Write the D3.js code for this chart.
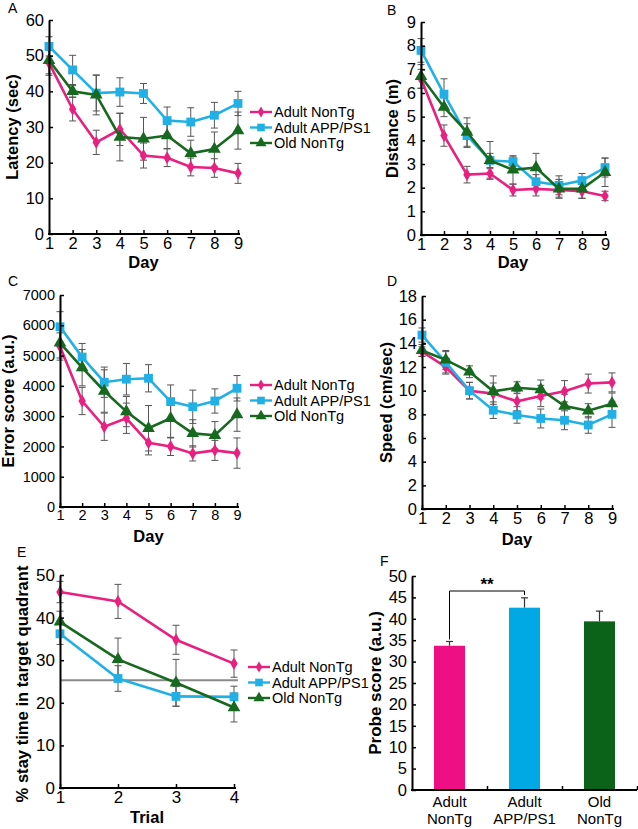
<!DOCTYPE html>
<html><head><meta charset="utf-8">
<script src="https://cdn.jsdelivr.net/npm/d3@7"></script>
<style>body{margin:0;background:#fff}text{font-family:"Liberation Sans",Arial,sans-serif;fill:#000}</style>
</head><body>
<svg id="c" width="638" height="829"></svg>
<script>
// ---------- DATA ----------
const seriesNames = ["Adult NonTg", "Adult APP/PS1", "Old NonTg"];
const days = [1, 2, 3, 4, 5, 6, 7, 8, 9];
const trials = [1, 2, 3, 4];

const latencyAdultNonTg = [48, 35, 25.7, 29.3, 22, 21.4, 18.8, 18.5, 17];
const latencyAdultNonTgErr = [3.5, 3.3, 3.4, 4.5, 3.5, 2.5, 2.5, 2.6, 2.8];
const latencyAPP = [52.6, 46, 39.5, 39.8, 39.4, 31.8, 31.4, 33.3, 36.6];
const latencyAPPErr = [2.7, 4.1, 5, 4, 2.8, 3.8, 4.0, 3.6, 3.4];
const latencyOldNonTg = [48.7, 40, 39, 27.2, 26.7, 27.6, 22.6, 23.8, 29];
const latencyOldNonTgErr = [3.8, 1.6, 5.6, 6.7, 6.0, 3.7, 3.7, 4.8, 5.2];

const distAdultNonTg = [6.6, 4.2, 2.55, 2.6, 1.9, 1.95, 1.9, 1.85, 1.65];
const distAdultNonTgErr = [0.4, 0.45, 0.35, 0.2, 0.25, 0.3, 0.3, 0.3, 0.2];
const distAPP = [7.8, 5.95, 4.2, 3.15, 3.1, 2.25, 2.1, 2.3, 2.85];
const distAPPErr = [0.5, 0.65, 0.5, 0.3, 0.2, 0.3, 0.4, 0.3, 0.4];
const distOldNonTg = [6.7, 5.4, 4.35, 3.15, 2.75, 2.85, 1.95, 1.95, 2.65];
const distOldNonTgErr = [0.5, 0.4, 0.6, 0.8, 0.6, 0.6, 0.4, 0.4, 0.6];

const errAdultNonTg = [5300, 3500, 2650, 2930, 2120, 2000, 1770, 1870, 1780];
const errAdultNonTgErr = [450, 450, 450, 500, 400, 300, 250, 330, 500];
const errAPP = [5950, 4950, 4120, 4220, 4250, 3480, 3310, 3500, 3920];
const errAPPErr = [500, 450, 500, 520, 450, 550, 550, 400, 420];
const errOldNonTg = [5420, 4600, 3830, 3150, 2600, 2930, 2430, 2370, 3050];
const errOldNonTgErr = [500, 600, 700, 500, 750, 650, 450, 450, 550];

const speedAdultNonTg = [13.3, 12.0, 10.0, 9.75, 9.1, 9.55, 9.95, 10.6, 10.7];
const speedAdultNonTgErr = [0.4, 0.6, 0.7, 0.9, 0.8, 0.9, 0.9, 0.8, 0.8];
const speedAPP = [14.7, 12.4, 10.0, 8.35, 7.95, 7.65, 7.5, 7.1, 8.0];
const speedAPPErr = [0.6, 0.9, 0.7, 0.7, 0.7, 0.8, 0.8, 0.7, 1.1];
const speedOldNonTg = [13.4, 12.6, 11.6, 9.95, 10.25, 10.1, 8.7, 8.3, 8.9];
const speedOldNonTgErr = [0.5, 0.8, 0.5, 1.3, 0.5, 0.8, 1.0, 0.6, 0.9];

const stayAdultNonTg = [46, 43.8, 34.8, 29.2];
const stayAdultNonTgErr = [2.5, 4, 3.4, 3.2];
const stayAPP = [36.2, 25.7, 21.5, 21.4];
const stayAPPErr = [2.5, 3, 2.3, 2.5];
const stayOldNonTg = [39, 30.2, 24.7, 18.9];
const stayOldNonTgErr = [2.5, 5, 5.5, 3.4];
const chanceLevel = 25.3;

const probeGroups = [["Adult", "NonTg"], ["Adult", "APP/PS1"], ["Old", "NonTg"]];
const probeScore = [33.7, 42.6, 39.4];
const probeErr = [1.0, 2.3, 2.4];

const lineColors = ["#e8207f", "#21b0e6", "#17691f"];
const barColors = ["#ef0f84", "#00a8e4", "#0a6318"];
const symbols = [d3.symbolDiamond, d3.symbolSquare, d3.symbolTriangle];
const symSizes = [48, 78, 70];

const svg = d3.select("#c");
const FONT = '"Liberation Sans",Arial,sans-serif';

function styleAxis(a, fs) {
  a.select(".domain").attr("stroke", "#000").attr("stroke-width", 2);
  a.selectAll(".tick line").attr("stroke", "#000").attr("stroke-width", 1.5);
  a.selectAll(".tick text").attr("font-size", fs).attr("font-family", FONT).attr("fill", "#000");
}

function panel(o) {
  const g = svg.append("g");
  const x = d3.scaleLinear().domain(o.xDomain).range([o.x0, o.x1]);
  const y = d3.scaleLinear().domain([0, o.yMax]).range([o.yBottom, o.yTop]);
  const fs = o.tickFont || 16.5;
  o.series.forEach((s) => {
    const eg = g.append("g");
    s.v.forEach((v, i) => {
      const cx = x(o.xs[i]);
      const yt = y(v + s.e[i]), yb = y(v - s.e[i]);
      eg.append("line").attr("x1", cx).attr("x2", cx).attr("y1", yt).attr("y2", yb).attr("stroke", "#555").attr("stroke-width", 1);
      [yt, yb].forEach(yy => eg.append("line").attr("x1", cx - 3.5).attr("x2", cx + 3.5).attr("y1", yy).attr("y2", yy).attr("stroke", "#555").attr("stroke-width", 1));
    });
  });
  if (o.hline !== undefined) {
    g.append("line").attr("x1", o.x0).attr("x2", o.x1 + 4).attr("y1", y(o.hline)).attr("y2", y(o.hline)).attr("stroke", "#8a8a8a").attr("stroke-width", 2);
  }
  o.series.forEach((s, si) => {
    const ln = d3.line().x((d, i) => x(o.xs[i])).y(d => y(d));
    g.append("path").datum(s.v).attr("d", ln).attr("fill", "none").attr("stroke", lineColors[si]).attr("stroke-width", 2.6);
    g.selectAll(null).data(s.v).enter().append("path")
      .attr("d", d3.symbol().type(symbols[si]).size(symSizes[si]))
      .attr("transform", (d, i) => `translate(${x(o.xs[i])},${y(d)})`)
      .attr("fill", lineColors[si]);
  });
  const ya = g.append("g").attr("transform", `translate(${o.x0},0)`)
    .call(d3.axisLeft(y).tickValues(o.yTicks).tickSizeInner(-4).tickSizeOuter(0).tickPadding(5).tickFormat(d3.format("d")));
  const xa = g.append("g").attr("transform", `translate(0,${o.yBottom})`)
    .call(d3.axisBottom(x).tickValues(o.xs).tickSizeInner(-4).tickSizeOuter(0).tickPadding(3).tickFormat(d3.format("d")));
  xa.select(".domain").attr("d", `M${o.x0 - 1},0H${o.x1 + 2}`);
  styleAxis(ya, fs); styleAxis(xa, fs);
  g.append("text").attr("x", (o.x0 + o.x1) / 2).attr("y", o.xTitleY).attr("text-anchor", "middle")
    .attr("font-size", 16.5).attr("font-weight", "bold").text(o.xTitle);
  g.append("text").attr("transform", `translate(${o.yTitleX},${o.yTitleC || (o.yTop + o.yBottom) / 2}) rotate(-90)`)
    .attr("text-anchor", "middle").attr("dy", "0.35em").attr("font-size", o.yTitleSize || 16.5).attr("font-weight", "bold").text(o.yTitle);
  g.append("text").attr("x", o.letterX).attr("y", o.letterY).attr("font-size", 14).text(o.letter);
  if (o.legendY) {
    seriesNames.forEach((n, i) => {
      const ly = o.legendY + i * 15.5;
      g.append("line").attr("x1", o.legendX).attr("x2", o.legendX + 22).attr("y1", ly).attr("y2", ly).attr("stroke", lineColors[i]).attr("stroke-width", 2.4);
      g.append("path").attr("d", d3.symbol().type(symbols[i]).size(symSizes[i] * 0.75)).attr("transform", `translate(${o.legendX + 11},${ly})`).attr("fill", lineColors[i]);
      g.append("text").attr("x", o.legendX + 24).attr("y", ly).attr("dy", "0.36em").attr("font-size", 14.5).text(n);
    });
  }
}

panel({
  letter: "A", letterX: 8, letterY: 13,
  x0: 49, x1: 238, yTop: 20, yBottom: 234, yMax: 60, yTicks: d3.range(0, 61, 10),
  xs: days, xDomain: [1, 9], xTitle: "Day", xTitleY: 268, yTitle: "Latency (sec)", yTitleX: 12,
  series: [{v: latencyAdultNonTg, e: latencyAdultNonTgErr}, {v: latencyAPP, e: latencyAPPErr}, {v: latencyOldNonTg, e: latencyOldNonTgErr}],
  legendX: 250, legendY: 112
});
panel({
  letter: "B", letterX: 387, letterY: 15,
  x0: 421, x1: 605, yTop: 22, yBottom: 235, yMax: 9, yTicks: d3.range(0, 10, 1),
  xs: days, xDomain: [1, 9], xTitle: "Day", xTitleY: 268, yTitle: "Distance (m)", yTitleX: 392,
  series: [{v: distAdultNonTg, e: distAdultNonTgErr}, {v: distAPP, e: distAPPErr}, {v: distOldNonTg, e: distOldNonTgErr}]
});
panel({
  letter: "C", letterX: 8, letterY: 286, tickFont: 14.5,
  x0: 60, x1: 237, yTop: 295, yBottom: 507, yMax: 7000, yTicks: d3.range(0, 7001, 1000),
  xs: days, xDomain: [1, 9], xTitle: "Day", xTitleY: 542, yTitle: "Error score (a.u.)", yTitleX: 8,
  series: [{v: errAdultNonTg, e: errAdultNonTgErr}, {v: errAPP, e: errAPPErr}, {v: errOldNonTg, e: errOldNonTgErr}],
  legendX: 250, legendY: 385
});
panel({
  letter: "D", letterX: 387, letterY: 286,
  x0: 422, x1: 612, yTop: 296, yBottom: 509, yMax: 18, yTicks: d3.range(0, 19, 2),
  xs: days, xDomain: [1, 9], xTitle: "Day", xTitleY: 545, yTitle: "Speed (cm/sec)", yTitleX: 386,
  series: [{v: speedAdultNonTg, e: speedAdultNonTgErr}, {v: speedAPP, e: speedAPPErr}, {v: speedOldNonTg, e: speedOldNonTgErr}]
});
panel({
  letter: "E", letterX: 17, letterY: 557, tickFont: 17,
  x0: 60, x1: 234, yTop: 575, yBottom: 788, yMax: 50, yTicks: d3.range(0, 51, 10),
  xs: trials, xDomain: [1, 4], xTitle: "Trial", xTitleY: 823, yTitle: "% stay time in target quadrant", yTitleX: 22, yTitleSize: 16.6, yTitleC: 684,
  series: [{v: stayAdultNonTg, e: stayAdultNonTgErr}, {v: stayAPP, e: stayAPPErr}, {v: stayOldNonTg, e: stayOldNonTgErr}],
  hline: chanceLevel,
  legendX: 248, legendY: 667
});

// ---------- Panel F (bars) ----------
(function () {
  const g = svg.append("g");
  const x0 = 412, x1 = 637, yTop = 576, yBottom = 790;
  const x = d3.scaleBand().domain(d3.range(probeScore.length)).range([x0, x1]);
  const y = d3.scaleLinear().domain([0, 50]).range([yBottom, yTop]);
  const bw = 31;
  probeScore.forEach((v, i) => {
    const cx = x(i) + x.bandwidth() / 2;
    const top = y(v + probeErr[i]);
    g.append("line").attr("x1", cx).attr("x2", cx).attr("y1", y(v)).attr("y2", top).attr("stroke", "#333").attr("stroke-width", 1.2);
    g.append("line").attr("x1", cx - 3.5).attr("x2", cx + 3.5).attr("y1", top).attr("y2", top).attr("stroke", "#333").attr("stroke-width", 1.2);
    g.append("rect").attr("x", cx - bw / 2).attr("y", y(v)).attr("width", bw).attr("height", yBottom - y(v)).attr("fill", barColors[i]);
  });
  const ya = g.append("g").attr("transform", `translate(${x0},0)`)
    .call(d3.axisLeft(y).tickValues(d3.range(0, 51, 5)).tickSizeInner(-4).tickSizeOuter(0).tickPadding(5));
  const xa = g.append("g").attr("transform", `translate(0,${yBottom})`)
    .call(d3.axisBottom(d3.scaleLinear().domain([0, 3]).range([x0, x1])).tickValues([1, 2, 3]).tickSizeInner(-4).tickSizeOuter(0).tickFormat(""));
  xa.select(".domain").attr("d", `M${x0 - 1},0H${x1}`);
  styleAxis(ya, 16.5); styleAxis(xa, 16.5);
  probeGroups.forEach((lbl, i) => {
    const cx = x(i) + x.bandwidth() / 2;
    lbl.forEach((t, j) => g.append("text").attr("x", cx).attr("y", 807 + j * 17).attr("text-anchor", "middle").attr("font-size", 15).text(t));
  });
  const c0 = x(0) + x.bandwidth() / 2, c1 = x(1) + x.bandwidth() / 2;
  const by = 591;
  g.append("path").attr("d", `M${c0},${y(probeScore[0] + probeErr[0]) - 2}V${by}H${c1}V${by + 4}`)
    .attr("fill", "none").attr("stroke", "#000").attr("stroke-width", 1);
  g.append("text").attr("x", (c0 + c1) / 2).attr("y", by - 1).attr("text-anchor", "middle").attr("font-size", 17).attr("font-weight", "bold").text("**");
  g.append("text").attr("transform", `translate(375,${(yTop + yBottom) / 2}) rotate(-90)`)
    .attr("text-anchor", "middle").attr("dy", "0.35em").attr("font-size", 17).attr("font-weight", "bold").text("Probe score (a.u.)");
  g.append("text").attr("x", 380).attr("y", 566).attr("font-size", 14).text("F");
})();
</script>
</body></html>
